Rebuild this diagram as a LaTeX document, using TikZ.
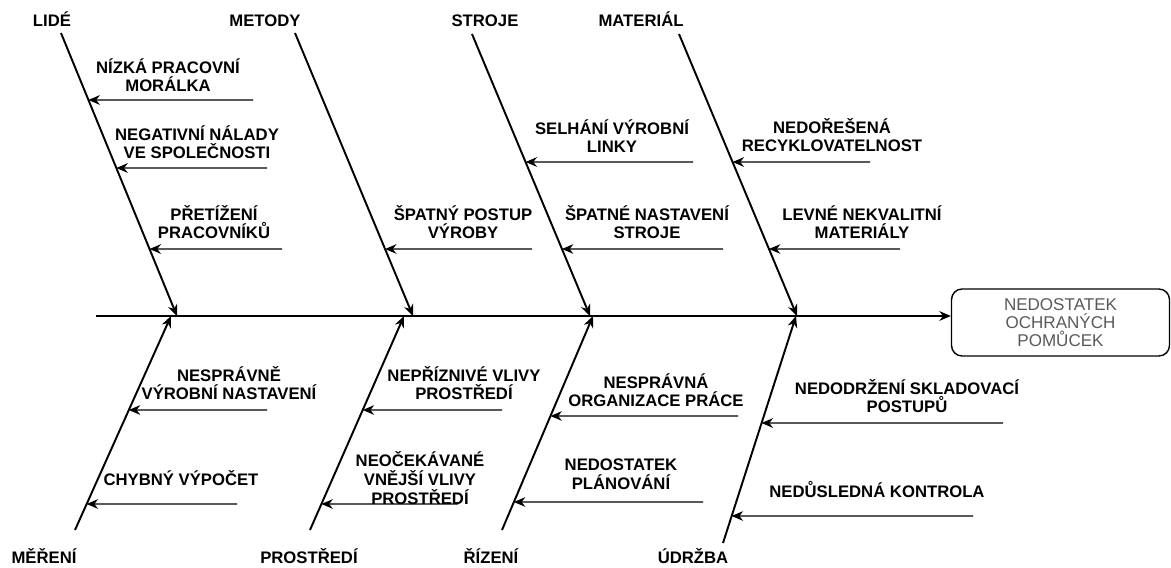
\documentclass[tikz,border=0pt]{standalone}
\usepackage{fontspec}
\setmainfont{Liberation Sans}
\usetikzlibrary{arrows.meta,calc}
\tikzset{
 fb spine/.style={line width=0.6pt},
 fb head/.style={line width=1pt,-{Stealth[length=6.5pt,width=5.5pt]}},
 fb rib/.style={line width=1.1pt,-{Stealth[length=6.5pt,width=5.5pt]}},
 fb cause/.style={line width=0.8pt,-{Stealth[length=6.5pt,width=5.5pt]}},
 fb category/.style={font=\bfseries\fontsize{9.5}{10.6}\selectfont,
                     inner sep=0pt,anchor=base},
 fb label/.style={font=\bfseries\fontsize{9.5}{10.6}\selectfont,
                  align=center,inner sep=0pt},
 fb effect/.style={draw,line width=0.8pt,rounded corners=6pt,align=center,
                   minimum width=4.36cm,minimum height=1.34cm,inner sep=0pt,
                   text=black!65,font=\fontsize{9.7}{10.3}\selectfont}
}
\begin{document}
\begin{tikzpicture}[x=0.02cm,y=-0.02cm]
 \useasboundingbox (0,0) rectangle (1171,568);
 \coordinate (s0) at (96,316);
 \coordinate (s1) at (800,316);
 \node[fb effect] (eff) at (1060.5,322.5) {NEDOSTATEK\\OCHRANÝCH\\POMŮCEK};

 % ribs, top row
 \coordinate (t1) at (61,33);  \coordinate (j1) at (177,316);
 \coordinate (t2) at (295,33); \coordinate (j2) at (413,316);
 \coordinate (t3) at (472,34); \coordinate (j3) at (590,316);
 \coordinate (t4) at (679,34); \coordinate (j4) at (797,316);
 % ribs, bottom row
 \coordinate (b1) at (75,530);  \coordinate (k1) at (171,316);
 \coordinate (b2) at (310,530); \coordinate (k2) at (404,316);
 \coordinate (b3) at (502,530); \coordinate (k3) at (593,316);
 \coordinate (b4) at (723,543); \coordinate (k4) at (796,316);

 \node[fb category] (lide) at (52,27) {LIDÉ};
 \node[fb category] (metody) at (265,27) {METODY};
 \node[fb category] (stroje) at (485,27) {STROJE};
 \node[fb category] (material) at (641,27) {MATERIÁL};
 \node[fb category] (mereni) at (44,563) {MĚŘENÍ};
 \node[fb category] (prostredi) at (309,563) {PROSTŘEDÍ};
 \node[fb category] (rizeni) at (491,563) {ŘÍZENÍ};
 \node[fb category] (udrzba) at (693,563) {ÚDRŽBA};

 \draw[fb spine] (s0)--(s1);
 \draw[fb head] (s1)--(s1 -| eff.west);
 \foreach \i in {1,...,4} {
   \draw[fb rib] (t\i)--(j\i);
   \draw[fb rib] (b\i)--(k\i);
 }

 % causes above the spine
 \node[fb label] (c1) at (168,75) {NÍZKÁ PRACOVNÍ\\MORÁLKA};
 \node[fb label] (c2) at (197,142) {NEGATIVNÍ NÁLADY\\VE SPOLEČNOSTI};
 \node[fb label] (c3) at (214,222) {PŘETÍŽENÍ\\PRACOVNÍKŮ};
 \node[fb label] (c4) at (463,222) {ŠPATNÝ POSTUP\\VÝROBY};
 \node[fb label] (c5) at (612,136) {SELHÁNÍ VÝROBNÍ\\LINKY};
 \node[fb label] (c6) at (647,222) {ŠPATNÉ NASTAVENÍ\\STROJE};
 \node[fb label] (c7) at (832,135) {NEDOŘEŠENÁ\\RECYKLOVATELNOST};
 \node[fb label] (c8) at (862,222) {LEVNÉ NEKVALITNÍ\\MATERIÁLY};
 \coordinate (c1e) at (253,100);
 \coordinate (c2e) at (267,168);
 \coordinate (c3e) at (282,249);
 \coordinate (c4e) at (532,249);
 \coordinate (c5e) at (693,162);
 \coordinate (c6e) at (723,249);
 \coordinate (c7e) at (870,162);
 \coordinate (c8e) at (900,249);
 \draw[fb cause] (c1e)--($(t1)!.2367!(j1)$);
 \draw[fb cause] (c2e)--($(t1)!.4770!(j1)$);
 \draw[fb cause] (c3e)--($(t1)!.7633!(j1)$);
 \draw[fb cause] (c4e)--($(t2)!.7633!(j2)$);
 \draw[fb cause] (c5e)--($(t3)!.4539!(j3)$);
 \draw[fb cause] (c6e)--($(t3)!.7624!(j3)$);
 \draw[fb cause] (c7e)--($(t4)!.4539!(j4)$);
 \draw[fb cause] (c8e)--($(t4)!.7624!(j4)$);

 % causes below the spine
 \node[fb label] (d1) at (229,383) {NESPRÁVNĚ\\VÝROBNÍ NASTAVENÍ};
 \node[fb label] (d2) at (181,478) {CHYBNÝ VÝPOČET};
 \node[fb label] (d3) at (464,383) {NEPŘÍZNIVÉ VLIVY\\PROSTŘEDÍ};
 \node[fb label] (d4) at (420,478) {NEOČEKÁVANÉ\\VNĚJŠÍ VLIVY\\PROSTŘEDÍ};
 \node[fb label] (d5) at (656,390) {NESPRÁVNÁ\\ORGANIZACE PRÁCE};
 \node[fb label] (d6) at (621,474) {NEDOSTATEK\\PLÁNOVÁNÍ};
 \node[fb label] (d7) at (907,396) {NEDODRŽENÍ SKLADOVACÍ\\POSTUPŮ};
 \node[fb label] (d8) at (877,490) {NEDŮSLEDNÁ KONTROLA};
 \coordinate (d1e) at (267,410);
 \coordinate (d2e) at (237,504);
 \coordinate (d3e) at (502,410);
 \coordinate (d4e) at (458,504);
 \coordinate (d5e) at (738,416);
 \coordinate (d6e) at (703,502);
 \coordinate (d7e) at (1003,423);
 \coordinate (d8e) at (973,516);
 \draw[fb cause] (d1e)--($(b1)!.5607!(k1)$);
 \draw[fb cause] (d2e)--($(b1)!.1215!(k1)$);
 \draw[fb cause] (d3e)--($(b2)!.5607!(k2)$);
 \draw[fb cause] (d4e)--($(b2)!.1215!(k2)$);
 \draw[fb cause] (d5e)--($(b3)!.5327!(k3)$);
 \draw[fb cause] (d6e)--($(b3)!.1308!(k3)$);
 \draw[fb cause] (d7e)--($(b4)!.5286!(k4)$);
 \draw[fb cause] (d8e)--($(b4)!.1189!(k4)$);
\end{tikzpicture}
\end{document}
